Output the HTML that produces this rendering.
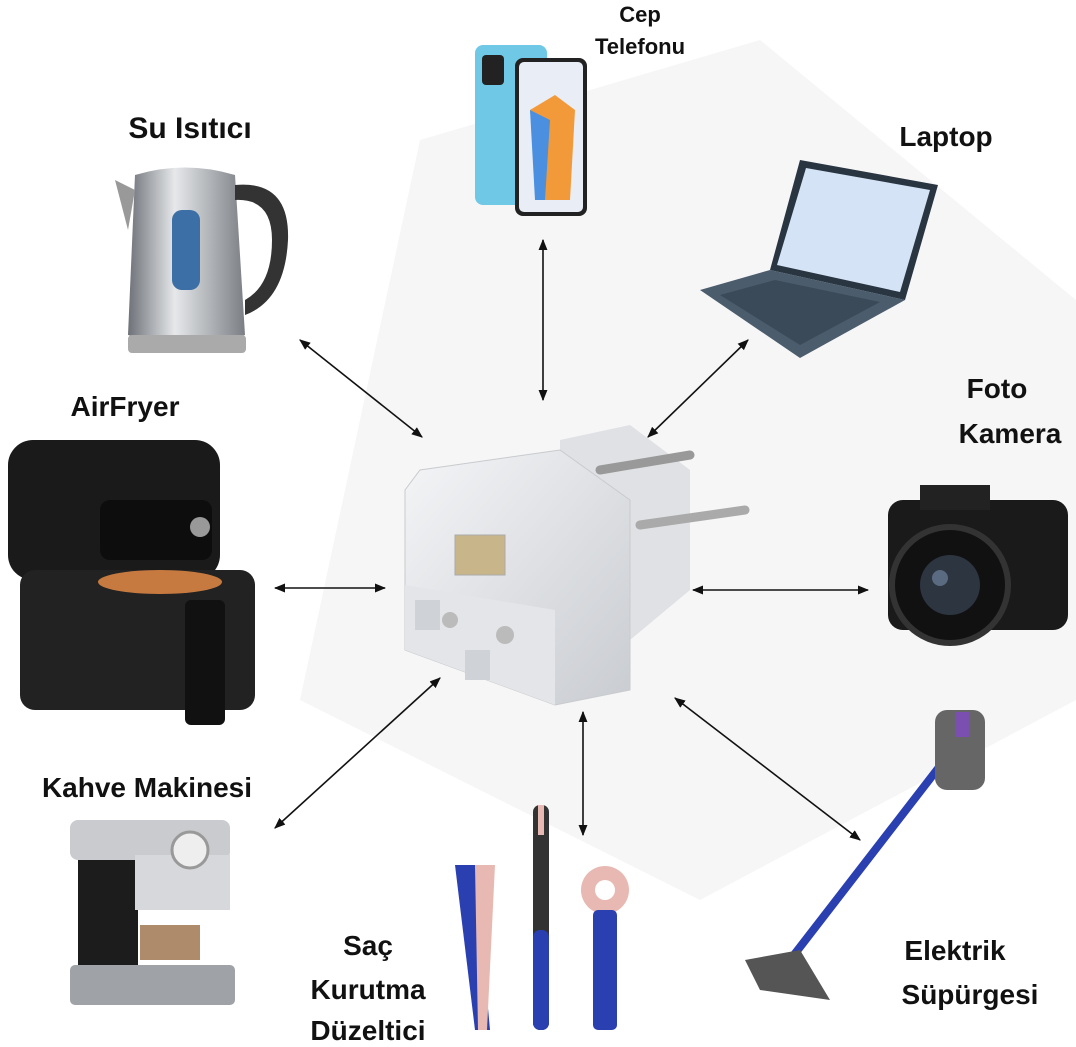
<!DOCTYPE html>
<html><head><meta charset="utf-8"><style>
html,body{margin:0;padding:0;background:#fff}
svg{display:block}
text{font-family:"Liberation Sans",sans-serif;font-weight:bold;fill:#111}
</style></head><body>
<svg width="1076" height="1047" viewBox="0 0 1076 1047" xmlns="http://www.w3.org/2000/svg">
<defs>
<marker id="a" viewBox="0 0 10 10" refX="9" refY="5" markerWidth="7" markerHeight="7" orient="auto-start-reverse"><path d="M0,1 L10,5 L0,9 z" fill="#111"/></marker>
<linearGradient id="steel" x1="0" x2="1"><stop offset="0" stop-color="#6d7178"/><stop offset="0.4" stop-color="#e6e8ea"/><stop offset="1" stop-color="#7b7f85"/></linearGradient>
<linearGradient id="plug" x1="0" x2="1" y1="0" y2="1"><stop offset="0" stop-color="#f4f5f7"/><stop offset="1" stop-color="#c9ccd1"/></linearGradient>
</defs>
<rect width="1076" height="1047" fill="#fff"/>
<!-- faint watermark -->
<polygon points="420,140 760,40 1076,300 1076,700 700,900 300,700" fill="#f6f6f7"/>
<!-- arrows -->
<g stroke="#111" stroke-width="1.6" fill="none" marker-start="url(#a)" marker-end="url(#a)">
<line x1="543" y1="240" x2="543" y2="400"/>
<line x1="300" y1="340" x2="422" y2="437"/>
<line x1="748" y1="340" x2="648" y2="437"/>
<line x1="275" y1="588" x2="385" y2="588"/>
<line x1="693" y1="590" x2="868" y2="590"/>
<line x1="440" y1="678" x2="275" y2="828"/>
<line x1="583" y1="712" x2="583" y2="835"/>
<line x1="675" y1="698" x2="860" y2="840"/>
</g>
<!-- plug -->
<polygon points="560,440 630,425 690,470 690,590 630,640 560,600" fill="#dfe1e4"/>
<line x1="600" y1="470" x2="690" y2="455" stroke="#999" stroke-width="9" stroke-linecap="round"/>
<line x1="640" y1="525" x2="745" y2="510" stroke="#aaa" stroke-width="9" stroke-linecap="round"/>
<polygon points="420,470 560,450 630,500 630,690 555,705 405,650 405,490" fill="url(#plug)" stroke="#c8cacd"/>
<polygon points="405,585 555,610 555,705 405,650" fill="#e3e5e8"/>
<rect x="455" y="535" width="50" height="40" fill="#c8b58a" stroke="#aaa"/>
<circle cx="450" cy="620" r="8" fill="#bbb"/><circle cx="505" cy="635" r="9" fill="#bbb"/>
<rect x="415" y="600" width="25" height="30" fill="#cfd2d6"/><rect x="465" y="650" width="25" height="30" fill="#cfd2d6"/>
<!-- phone -->
<rect x="475" y="45" width="72" height="160" rx="8" fill="#6fc9e6"/>
<rect x="482" y="55" width="22" height="30" rx="4" fill="#222"/>
<rect x="515" y="58" width="72" height="158" rx="8" fill="#222"/>
<rect x="519" y="62" width="64" height="150" rx="5" fill="#e9eef6"/>
<polygon points="530,110 555,95 575,110 570,200 540,200" fill="#f29a3a"/>
<polygon points="530,110 550,120 545,200 535,200" fill="#4a8fe0"/>
<!-- laptop -->
<polygon points="800,160 938,185 905,300 770,270" fill="#2a3542"/>
<polygon points="806,168 930,190 900,292 777,265" fill="#d4e3f5"/>
<polygon points="770,270 905,300 800,358 700,290" fill="#4b5c6c"/>
<polygon points="775,280 880,302 800,345 720,295" fill="#3b4a58"/>
<!-- kettle -->
<path d="M135,175 Q185,160 235,175 L245,335 Q185,350 128,335 Z" fill="url(#steel)"/>
<path d="M235,185 Q290,180 288,240 Q285,300 245,315 L245,300 Q272,285 272,240 Q272,198 235,200Z" fill="#333"/>
<rect x="172" y="210" width="28" height="80" rx="10" fill="#3b6fa5"/>
<rect x="128" y="335" width="118" height="18" rx="4" fill="#aaa"/>
<path d="M135,190 L115,180 L128,230 Z" fill="#999"/>
<!-- airfryer -->
<rect x="8" y="440" width="212" height="140" rx="25" fill="#1a1a1a"/>
<rect x="100" y="500" width="112" height="60" rx="10" fill="#0d0d0d"/>
<circle cx="200" cy="527" r="10" fill="#999"/>
<rect x="20" y="570" width="235" height="140" rx="15" fill="#222"/>
<ellipse cx="160" cy="582" rx="62" ry="12" fill="#c67a3f"/>
<rect x="185" y="600" width="40" height="125" rx="6" fill="#111"/>
<!-- camera -->
<rect x="888" y="500" width="180" height="130" rx="15" fill="#1a1a1a"/>
<rect x="920" y="485" width="70" height="25" fill="#222"/>
<circle cx="950" cy="585" r="58" fill="#111" stroke="#333" stroke-width="6"/>
<circle cx="950" cy="585" r="30" fill="#2c3540"/>
<circle cx="940" cy="578" r="8" fill="#5a6a80"/>
<!-- coffee machine -->
<rect x="70" y="820" width="160" height="40" rx="8" fill="#c9cbce"/>
<rect x="78" y="860" width="60" height="110" fill="#1c1c1c"/>
<rect x="135" y="855" width="95" height="55" fill="#d6d8db"/>
<circle cx="190" cy="850" r="18" fill="#eee" stroke="#999" stroke-width="3"/>
<rect x="140" y="925" width="60" height="35" fill="#8b5a2b" opacity="0.7"/>
<rect x="70" y="965" width="165" height="40" rx="5" fill="#9fa2a6"/>
<!-- hair tools -->
<polygon points="455,865 475,865 490,1030 475,1030" fill="#2a3fb0"/>
<polygon points="475,865 495,865 487,1030 478,1030" fill="#e7b9b2"/>
<rect x="533" y="805" width="16" height="225" rx="7" fill="#333"/>
<rect x="533" y="930" width="16" height="100" rx="7" fill="#2a3fb0"/>
<rect x="538" y="805" width="6" height="30" fill="#e7b9b2"/>
<circle cx="605" cy="890" r="24" fill="#e7b9b2"/><circle cx="605" cy="890" r="10" fill="#fff"/>
<rect x="593" y="910" width="24" height="120" rx="5" fill="#2a3fb0"/>
<!-- vacuum -->
<line x1="960" y1="740" x2="790" y2="960" stroke="#2a3fb0" stroke-width="8"/>
<rect x="935" y="710" width="50" height="80" rx="12" fill="#666"/>
<rect x="955" y="712" width="14" height="25" fill="#7b4fb0"/>
<polygon points="745,960 800,950 830,1000 760,990" fill="#555"/>
<!-- labels -->
<text x="640" y="22" font-size="22" text-anchor="middle">Cep</text>
<text x="640" y="54" font-size="22" text-anchor="middle">Telefonu</text>
<text x="190" y="138" font-size="30" text-anchor="middle">Su Isıtıcı</text>
<text x="946" y="146" font-size="28" text-anchor="middle">Laptop</text>
<text x="125" y="416" font-size="28" text-anchor="middle">AirFryer</text>
<text x="997" y="398" font-size="28" text-anchor="middle">Foto</text>
<text x="1010" y="443" font-size="28" text-anchor="middle">Kamera</text>
<text x="147" y="797" font-size="28" text-anchor="middle">Kahve Makinesi</text>
<text x="368" y="955" font-size="28" text-anchor="middle">Saç</text>
<text x="368" y="999" font-size="28" text-anchor="middle">Kurutma</text>
<text x="368" y="1040" font-size="28" text-anchor="middle">Düzeltici</text>
<text x="955" y="960" font-size="28" text-anchor="middle">Elektrik</text>
<text x="970" y="1004" font-size="28" text-anchor="middle">Süpürgesi</text>
</svg>
</body></html>
